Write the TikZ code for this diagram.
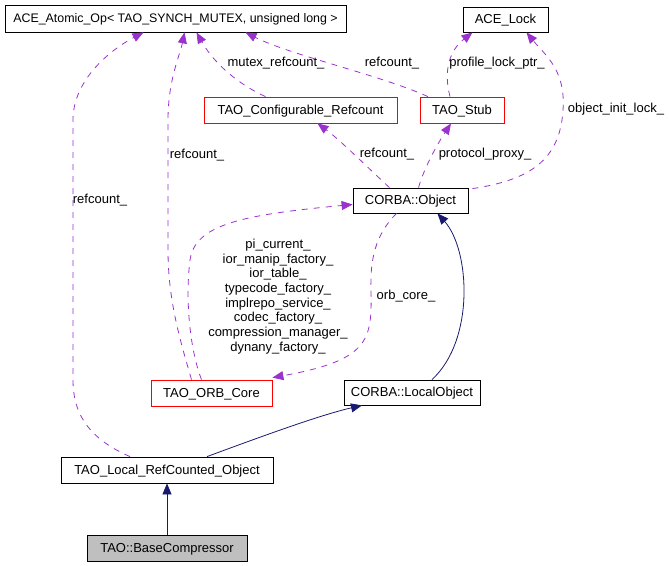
\documentclass[tikz,border=0pt]{standalone}
\usepackage{fontspec}
\setmainfont{Liberation Sans}
\usetikzlibrary{arrows.meta}
\definecolor{edgeblue}{HTML}{191970}
\definecolor{edgepurple}{HTML}{9A32CD}
\tikzset{
  cls/.style={draw, line width=0.8pt, inner sep=0pt, minimum height=26pt, text height=9.5pt, text depth=1pt, font=\fontsize{13}{14.7}\selectfont},
  redcls/.style={cls, draw=red},
  inherit/.style={edgeblue, line width=0.8pt, -{Triangle[length=11pt,width=9pt]}},
  member/.style={edgepurple, line width=0.8pt, dash pattern=on 6pt off 6pt, -{Triangle[length=11pt,width=9pt]}},
  lbl/.style={font=\fontsize{13}{14.7}\selectfont, inner sep=0pt, align=center},
}
\begin{document}
\begin{tikzpicture}[x=1pt,y=-1pt]
\useasboundingbox (0,0) rectangle (669,565);

\node[cls, minimum width=341pt, minimum height=27pt, font=\fontsize{12.4}{14.7}\selectfont] (atomic) at (175.5,18.5) {ACE\_Atomic\_Op< TAO\_SYNCH\_MUTEX, unsigned long >};
\node[cls, minimum width=85pt, minimum height=25pt] (acelock) at (505.5,19.5) {ACE\_Lock};
\node[redcls, minimum width=193pt] (cfgref) at (300.5,110) {TAO\_Configurable\_Refcount};
\node[redcls, minimum width=84pt] (stub) at (462,110) {TAO\_Stub};
\node[cls, minimum width=115pt, minimum height=25pt] (cobj) at (410.5,200.5) {CORBA::Object};
\node[redcls, minimum width=121pt] (orbcore) at (211.5,393) {TAO\_ORB\_Core};
\node[cls, minimum width=136pt, minimum height=25pt] (lobj) at (412,392.5) {CORBA::LocalObject};
\node[cls, minimum width=212pt] (lrco) at (167,470) {TAO\_Local\_RefCounted\_Object};
\node[cls, minimum width=160pt, fill=black!25] (basec) at (167,548) {TAO::BaseCompressor};

% inheritance
\draw[inherit] (basec.north) -- (lrco.south);
\draw[inherit] ([xshift=40pt]lrco.north) .. controls (260,437) and (320,415) .. ([xshift=-50pt]lobj.south);
\draw[inherit] ([xshift=20pt]lobj.north) .. controls (475,340) and (470,250) .. ([xshift=27pt]cobj.south);

% members
\draw[member] ([xshift=-37pt]lrco.north) .. controls (85,437) and (73,410) .. (73,380) -- (73,120) .. controls (73,80) and (110,50) .. ([xshift=-32pt]atomic.south);
\node[lbl] (l1) at (100,200) {refcount\_};
\draw[member] ([xshift=-20pt]orbcore.north) .. controls (180,340) and (168,300) .. (168,250) -- (168,120) .. controls (168,80) and (180,55) .. ([xshift=9pt]atomic.south);
\node[lbl] (l2) at (197,155) {refcount\_};
\draw[member] ([xshift=-35pt]cfgref.north) .. controls (240,85) and (215,65) .. ([xshift=21pt]atomic.south);
\node[lbl] (l3) at (276,63) {mutex\_refcount\_};
\draw[member] ([xshift=-34pt]stub.north) .. controls (380,75) and (290,55) .. ([xshift=70pt]atomic.south);
\node[lbl] (l4) at (392,63) {refcount\_};
\draw[member] ([xshift=-12pt]stub.north) .. controls (443,70) and (450,50) .. ([xshift=-33pt]acelock.south);
\node[lbl] (l5) at (497,63) {profile\_lock\_ptr\_};
\draw[member] ([xshift=62pt,yshift=-1pt]cobj.north) .. controls (530,180) and (560,160) .. (563,110) .. controls (566,70) and (545,55) .. ([xshift=21pt]acelock.south);
\node[lbl] (l6) at (616,109) {object\_init\_lock\_};
\draw[member] ([xshift=-21pt]cobj.north) .. controls (365,165) and (340,140) .. ([xshift=17pt]cfgref.south);
\node[lbl] (l7) at (387,154) {refcount\_};
\draw[member] ([xshift=8pt]cobj.north) .. controls (425,165) and (440,140) .. ([xshift=-11pt]stub.south);
\node[lbl] (l8) at (485,154) {protocol\_proxy\_};
\draw[member] ([xshift=-10pt]orbcore.north) .. controls (190,350) and (185,300) .. (190,260) .. controls (195,225) and (240,215) .. ([yshift=-4pt]cobj.west);
\node[lbl] (l9) at (278,296.5) {pi\_current\_\\ior\_manip\_factory\_\\ior\_table\_\\typecode\_factory\_\\implrepo\_service\_\\codec\_factory\_\\compression\_manager\_\\dynany\_factory\_};
\draw[member] ([xshift=-14pt]cobj.south) .. controls (375,235) and (370,260) .. (371,290) .. controls (372,340) and (370,360) .. ([yshift=2pt]orbcore.north east);
\node[lbl] (l10) at (406,296) {orb\_core\_};
\end{tikzpicture}
\end{document}
